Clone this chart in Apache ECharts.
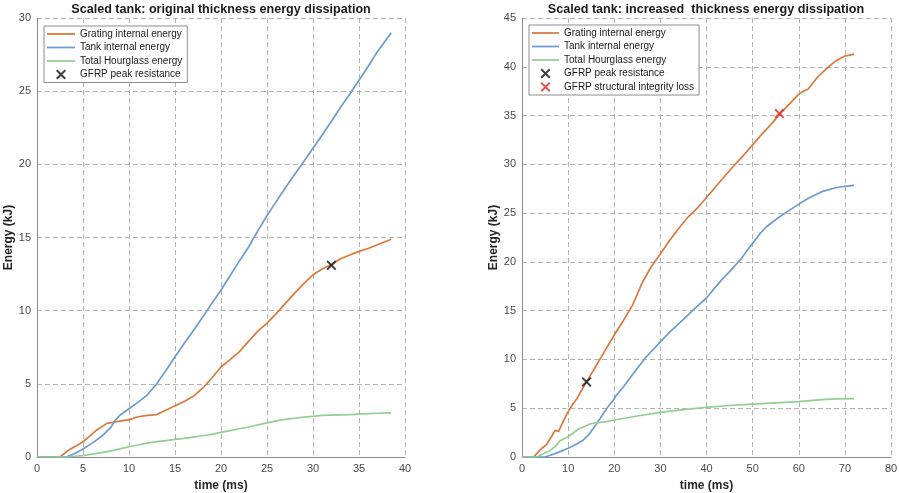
<!DOCTYPE html>
<html>
<head>
<meta charset="utf-8">
<script src="https://cdn.jsdelivr.net/npm/echarts@6/dist/echarts.min.js"></script>
<style>
html,body{margin:0;padding:0;background:#fff;}
#chart{width:899px;height:493px;}
</style>
</head>
<body>
<div id="chart"></div>
<script>
// ---- Left panel: original thickness ----
const leftTitle = 'Scaled tank: original thickness energy dissipation';
const leftGratingT = [0, 2.5, 3.5, 4.8, 5.5, 6.5, 7.6, 8.5, 9.5, 10, 11, 12, 13, 14, 15, 16, 17, 18, 19, 20, 21, 22, 23, 24, 25, 26, 27, 28, 29, 30, 31, 32, 33, 34, 35, 36, 37, 38.5];
const leftGratingE = [0, 0, 0.5, 0.95, 1.3, 1.85, 2.3, 2.4, 2.5, 2.55, 2.75, 2.85, 2.9, 3.2, 3.5, 3.8, 4.15, 4.7, 5.4, 6.15, 6.65, 7.2, 7.9, 8.6, 9.15, 9.8, 10.5, 11.2, 11.85, 12.45, 12.85, 13.15, 13.55, 13.8, 14.05, 14.25, 14.5, 14.88];
const leftTankT = [0, 3.2, 4, 5, 6, 7, 8, 8.5, 9, 10, 11, 12, 13, 14, 15, 16, 17, 18, 19, 20, 21, 22, 23, 24, 25, 26, 27, 28, 29, 30, 31, 32, 33, 34, 35, 36, 37, 38.5];
const leftTankE = [0, 0, 0.2, 0.55, 0.95, 1.4, 2.0, 2.5, 2.85, 3.3, 3.75, 4.25, 5.0, 5.9, 6.85, 7.75, 8.65, 9.55, 10.5, 11.4, 12.4, 13.4, 14.35, 15.45, 16.5, 17.45, 18.4, 19.3, 20.2, 21.1, 22.0, 22.95, 23.9, 24.8, 25.75, 26.7, 27.7, 29.0];
const leftHourT = [0, 3, 4, 5, 6, 7, 8, 9, 10, 11, 12, 13, 14, 15, 16, 17, 18, 19, 20, 21, 22, 23, 24, 25, 26, 27, 28, 29, 30, 31, 32, 33, 34, 35, 36, 37, 38.5];
const leftHourE = [0, 0, 0.05, 0.1, 0.2, 0.3, 0.42, 0.55, 0.7, 0.82, 0.95, 1.05, 1.12, 1.2, 1.27, 1.36, 1.45, 1.55, 1.68, 1.8, 1.93, 2.05, 2.2, 2.33, 2.47, 2.57, 2.65, 2.72, 2.78, 2.84, 2.86, 2.88, 2.9, 2.93, 2.96, 2.99, 3.02];
const leftPeak = [32, 13.1];

// ---- Right panel: increased thickness ----
const rightTitle = 'Scaled tank: increased  thickness energy dissipation';
const rightGratingT = [0, 2.5, 3.5, 4.3, 5.3, 6.4, 7.2, 7.9, 9, 10, 11, 12, 13, 14, 16, 18, 20, 22, 24, 26, 28, 30, 32, 34, 36, 38, 40, 42, 44, 46, 48, 50, 52, 54, 56, 58, 60, 61, 62, 64, 66, 68, 70, 72];
const rightGratingE = [0, 0, 0.5, 0.9, 1.25, 2.1, 2.75, 2.6, 3.7, 4.65, 5.4, 6.05, 6.9, 7.7, 9.3, 10.9, 12.5, 14.0, 15.6, 17.8, 19.5, 20.8, 22.2, 23.45, 24.6, 25.5, 26.6, 27.7, 28.8, 29.9, 30.9, 32.0, 33.1, 34.1, 35.2, 36.2, 37.2, 37.5, 37.7, 38.9, 39.8, 40.6, 41.1, 41.3];
const rightTankT = [0, 5, 6, 8, 10, 12, 13.3, 14.5, 15.5, 17, 18.4, 19.8, 20.5, 22, 23.1, 25, 27, 30, 32, 35, 37.2, 40, 43, 45, 47.3, 50, 51.6, 53, 55.2, 57, 60.3, 62, 65, 68, 70, 72];
const rightTankE = [0, 0, 0.15, 0.5, 0.9, 1.35, 1.75, 2.3, 2.95, 4.0, 5.0, 5.85, 6.35, 7.2, 7.9, 9.1, 10.3, 11.8, 12.8, 14.1, 15.1, 16.3, 18.0, 19.0, 20.2, 21.9, 22.9, 23.6, 24.4, 25.0, 26.0, 26.5, 27.2, 27.6, 27.75, 27.85];
const rightHourT = [0, 3.2, 4.5, 6, 7.2, 8.2, 10, 12.2, 14.75, 16, 18.4, 20, 25, 30, 35, 40, 45, 50, 55, 60, 65, 68, 72];
const rightHourE = [0, 0, 0.3, 0.65, 1.06, 1.64, 2.08, 2.84, 3.38, 3.5, 3.62, 3.79, 4.2, 4.58, 4.85, 5.09, 5.28, 5.43, 5.55, 5.67, 5.88, 5.95, 5.98];
const rightPeak = [14, 7.7];
const rightLoss = [55.8, 35.2];

const seriesNames = ['Grating internal energy', 'Tank internal energy', 'Total Hourglass energy', 'GFRP peak resistance', 'GFRP structural integrity loss'];
const xAxisName = 'time (ms)';
const yAxisName = 'Energy (kJ)';

const COL_ORANGE = '#d97a3c';
const COL_BLUE = '#6b9bd1';
const COL_GREEN = '#92cf92';
const XPATH = 'path://M0,1.4L1.4,0L5,3.6L8.6,0L10,1.4L6.4,5L10,8.6L8.6,10L5,6.4L1.4,10L0,8.6L3.6,5Z';
const LINEICON = 'path://M0,0H28V1.8H0Z';

const zip = (t, e) => t.map((v, i) => [v, e[i]]);
const FONT = 'Liberation Sans, Arial, sans-serif';

function lineSeries(name, t, e, color, idx) {
  return {
    type: 'line', name, data: zip(t, e), xAxisIndex: idx, yAxisIndex: idx,
    symbol: 'none', smooth: false, silent: true,
    lineStyle: { color, width: 1.7 }, itemStyle: { color }
  };
}
function markSeries(name, pt, color, idx) {
  return {
    type: 'scatter', name, data: [pt], xAxisIndex: idx, yAxisIndex: idx,
    symbol: XPATH, symbolSize: 10, itemStyle: { color }, z: 5, silent: true
  };
}
function xAxis(idx, max, interval) {
  return {
    type: 'value', gridIndex: idx, min: 0, max, interval,
    name: xAxisName, nameLocation: 'middle', nameGap: 23,
    nameTextStyle: { fontFamily: FONT, fontSize: 12, fontWeight: 'bold', color: '#262626' },
    axisLine: { show: true, lineStyle: { color: '#8a8a8a', width: 1 } },
    axisTick: { show: false },
    axisLabel: { fontFamily: FONT, fontSize: 11, color: '#4a4a4a', margin: 6 },
    splitLine: { show: true, lineStyle: { color: '#b4b4b4', type: [5, 3], width: 1 } }
  };
}
function yAxis(idx, max) {
  return {
    type: 'value', gridIndex: idx, min: 0, max, interval: 5,
    name: yAxisName, nameLocation: 'middle', nameGap: 19, nameRotate: 90,
    nameTextStyle: { fontFamily: FONT, fontSize: 12, fontWeight: 'bold', color: '#262626' },
    axisLine: { show: true, lineStyle: { color: '#8a8a8a', width: 1 } },
    axisTick: { show: false },
    axisLabel: { fontFamily: FONT, fontSize: 11, color: '#4a4a4a', margin: 6 },
    splitLine: { show: true, lineStyle: { color: '#b4b4b4', type: [5, 3], width: 1 } }
  };
}
function legendItems(names) {
  return names.map((n, i) => ({ name: n, icon: i < 3 ? LINEICON : XPATH }));
}
function legend(left, top, names, itemWidth) {
  return {
    left, top, orient: 'vertical', data: legendItems(names),
    itemWidth, itemHeight: 10, itemGap: 3.5,
    padding: [3, 5, 3, 3],
    backgroundColor: '#fff', borderColor: '#8c8c8c', borderWidth: 1, borderRadius: 0,
    textStyle: { fontFamily: FONT, fontSize: 10, color: '#1a1a1a', lineHeight: 10 },
    selectedMode: false
  };
}

const chart = echarts.init(document.getElementById('chart'), null, { renderer: 'canvas' });
chart.setOption({
  animation: false,
  backgroundColor: '#fff',
  title: [
    { text: leftTitle, left: 221, top: 3.5, padding: 0, textAlign: 'center', textStyle: { fontFamily: FONT, fontSize: 12.6, fontWeight: 'bold', color: '#1a1a1a' } },
    { text: rightTitle, left: 706, top: 3.5, padding: 0, textAlign: 'center', textStyle: { fontFamily: FONT, fontSize: 12.6, fontWeight: 'bold', color: '#1a1a1a' } }
  ],
  grid: [
    { left: 37, right: 494, top: 18, bottom: 36, containLabel: false, outerBoundsMode: 'none' },
    { left: 522, right: 8, top: 18, bottom: 36, containLabel: false, outerBoundsMode: 'none' }
  ],
  xAxis: [xAxis(0, 40, 5), xAxis(1, 80, 10)],
  yAxis: [yAxis(0, 30), yAxis(1, 45)],
  legend: [
    legend(44, 26, seriesNames.slice(0, 4), 28),
    legend(529, 25, seriesNames.slice(0, 5), 27)
  ],
  series: [
    lineSeries(seriesNames[0], leftGratingT, leftGratingE, COL_ORANGE, 0),
    lineSeries(seriesNames[1], leftTankT, leftTankE, COL_BLUE, 0),
    lineSeries(seriesNames[2], leftHourT, leftHourE, COL_GREEN, 0),
    markSeries(seriesNames[3], leftPeak, '#111', 0),
    lineSeries(seriesNames[0], rightGratingT, rightGratingE, COL_ORANGE, 1),
    lineSeries(seriesNames[1], rightTankT, rightTankE, COL_BLUE, 1),
    lineSeries(seriesNames[2], rightHourT, rightHourE, COL_GREEN, 1),
    markSeries(seriesNames[3], rightPeak, '#111', 1),
    markSeries(seriesNames[4], rightLoss, '#e0262b', 1)
  ]
});
</script>
</body>
</html>
